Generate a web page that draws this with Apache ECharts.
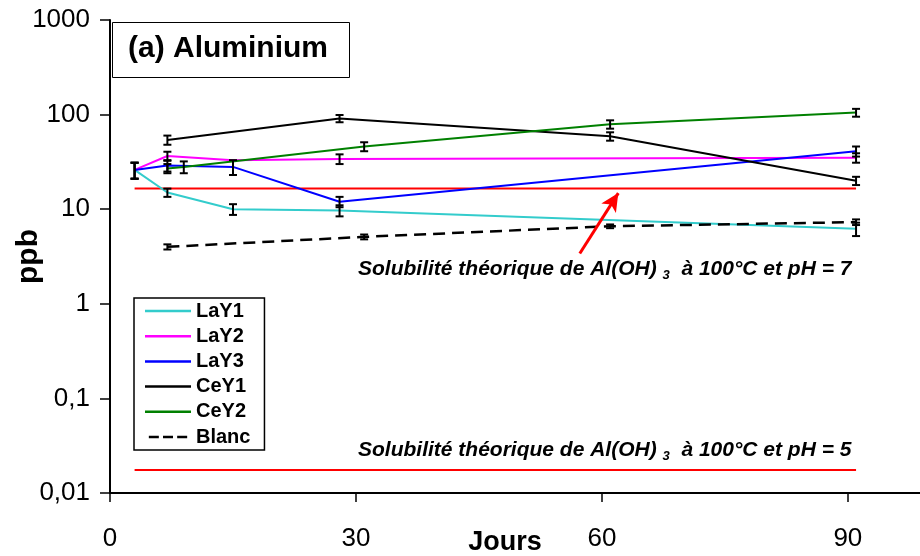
<!DOCTYPE html>
<html><head><meta charset="utf-8">
<script src="https://cdn.jsdelivr.net/npm/echarts@6/dist/echarts.min.js"></script>
<style>html,body{margin:0;padding:0;background:#fff}#c{width:920px;height:556px}</style>
</head><body><div id="c"></div>
<script>
// ---- data (days, ppb) ----
const LaY1_days = [3, 7, 15, 28, 91];
const LaY1_vals = [26, 15, 10, 9.7, 6.2];
const LaY1_err  = [5, 1.5, 1.3, 1.3, 1.0];

const LaY2_days = [3, 7, 15, 28, 91];
const LaY2_vals = [26, 36.5, 33, 34, 35];
const LaY2_err  = [5, 4, 0, 4, 4];

const LaY3_days = [3, 7, 15, 28, 91];
const LaY3_vals = [26, 29, 28, 12, 41];
const LaY3_err  = [5, 4, 5, 1.5, 5];

const CeY1_days = [7, 28, 61, 91];
const CeY1_vals = [54, 91, 59, 20];
const CeY1_err  = [6, 8, 6, 2];

const CeY2_days = [7, 9, 31, 61, 91];
const CeY2_vals = [27, 28, 46, 79, 105];
const CeY2_err  = [3, 4, 5, 8, 10];

const Blanc_days = [7, 31, 61, 91];
const Blanc_vals = [4.0, 5.1, 6.6, 7.3];
const Blanc_err  = [0.25, 0.3, 0.3, 0.5];

const solubility_days = [3, 91];
const solubility_pH7 = 16.6;
const solubility_pH5 = 0.0175;

const arrowFrom = [57.3, 3.4];
const arrowTo = [62, 14.8];

const xTicks = [0, 30, 60, 90];
const yTicks = [0.01, 0.1, 1, 10, 100, 1000];
const yTickLabels = ['0,01', '0,1', '1', '10', '100', '1000'];

const seriesDefs = [
  {name: 'LaY1', days: LaY1_days, vals: LaY1_vals, err: LaY1_err, color: '#33CCCC', type: 'solid'},
  {name: 'LaY2', days: LaY2_days, vals: LaY2_vals, err: LaY2_err, color: '#FF00FF', type: 'solid'},
  {name: 'LaY3', days: LaY3_days, vals: LaY3_vals, err: LaY3_err, color: '#0000FF', type: 'solid'},
  {name: 'CeY1', days: CeY1_days, vals: CeY1_vals, err: CeY1_err, color: '#000000', type: 'solid'},
  {name: 'CeY2', days: CeY2_days, vals: CeY2_vals, err: CeY2_err, color: '#008000', type: 'solid'},
  {name: 'Blanc', days: Blanc_days, vals: Blanc_vals, err: Blanc_err, color: '#000000', type: [12, 7]}
];

const chart = echarts.init(document.getElementById('c'), null, {renderer: 'canvas'});
const FONT = 'Liberation Sans, Arial, sans-serif';

const series = seriesDefs.map(d => ({
  name: d.name,
  type: 'line',
  symbol: 'none',
  data: d.days.map((x, i) => [x, d.vals[i]]),
  lineStyle: {color: d.color, width: d.name === 'Blanc' ? 2.5 : 2, type: d.type},
  itemStyle: {color: d.color},
  z: 3,
  animation: false
}));

// error bars
const errData = [];
seriesDefs.forEach(d => d.days.forEach((x, i) => {
  if (d.err[i] > 0) errData.push([x, d.vals[i], d.vals[i] - d.err[i], d.vals[i] + d.err[i]]);
}));
series.push({
  type: 'custom',
  name: 'err',
  data: errData,
  z: 5,
  renderItem: function (params, api) {
    const x = api.value(0);
    const lo = api.coord([x, api.value(2)]);
    const hi = api.coord([x, api.value(3)]);
    const w = 4;
    const st = {stroke: '#000', lineWidth: 2};
    return {type: 'group', children: [
      {type: 'line', shape: {x1: lo[0], y1: lo[1], x2: hi[0], y2: hi[1]}, style: st},
      {type: 'line', shape: {x1: lo[0] - w, y1: lo[1], x2: lo[0] + w, y2: lo[1]}, style: st},
      {type: 'line', shape: {x1: hi[0] - w, y1: hi[1], x2: hi[0] + w, y2: hi[1]}, style: st}
    ]};
  },
  animation: false
});

// theoretical solubility lines
series.push({
  type: 'line', name: 'pH7', symbol: 'none', z: 2,
  data: solubility_days.map(x => [x, solubility_pH7]),
  lineStyle: {color: '#FF0000', width: 2},
  markLine: {
    silent: true, symbol: ['none', 'arrow'], symbolSize: [13, 18],
    lineStyle: {color: '#FF0000', width: 3, type: 'solid'},
    label: {show: false},
    data: [[{coord: arrowFrom}, {coord: arrowTo}]]
  },
  animation: false
});
series.push({
  type: 'line', name: 'pH5', symbol: 'none', z: 2,
  data: solubility_days.map(x => [x, solubility_pH5]),
  lineStyle: {color: '#FF0000', width: 2},
  animation: false
});

function annot(top, ph) {
  return {
    type: 'text', left: 358, top: top, z: 10,
    style: {
      text: '{b|Solubilité théorique de Al(OH) }{s|3}{b|  à 100°C et pH = ' + ph + '}',
      rich: {
        b: {fontFamily: FONT, fontWeight: 'bold', fontStyle: 'italic', fontSize: 21, fill: '#000', verticalAlign: 'bottom'},
        s: {fontFamily: FONT, fontWeight: 'bold', fontStyle: 'italic', fontSize: 13, fill: '#000', verticalAlign: 'bottom', padding: [0, 0, -2, 0]}
      }
    }
  };
}

const legendIconSolid = 'rect';
const legendIconDash = 'path://M0,0h12v3h-12z M17,0h12v3h-12z M34,0h12v3h-12z';

chart.setOption({
  animation: false,
  backgroundColor: '#fff',
  grid: {left: 110, right: 0, top: 20, bottom: 63, containLabel: false, outerBoundsMode: 'none'},
  legend: {
    data: seriesDefs.map(d => ({name: d.name, icon: d.name === 'Blanc' ? legendIconDash : legendIconSolid})),
    orient: 'vertical', left: 134, top: 298,
    itemWidth: 46, itemHeight: 2.5, itemGap: 5.2,
    padding: [3, 14, 3, 11],
    borderColor: '#000', borderWidth: 1.5,
    backgroundColor: '#fff',
    textStyle: {fontFamily: FONT, fontWeight: 'bold', fontSize: 20, color: '#000'},
    selectedMode: false
  },
  xAxis: {
    type: 'value', min: 0, max: 98.8, interval: 30,
    name: 'Jours', nameLocation: 'middle', nameGap: 36, nameMoveOverlap: false,
    nameTextStyle: {fontFamily: FONT, fontWeight: 'bold', fontSize: 27, color: '#000', padding: [0, 20, 0, 0]},
    axisLine: {lineStyle: {color: '#000', width: 2}},
    axisTick: {show: true, length: 9, inside: false, lineStyle: {color: '#000', width: 1.5},
      customValues: xTicks},
    axisLabel: {customValues: xTicks, fontFamily: FONT, fontSize: 26, color: '#000', margin: 33,
      formatter: v => xTicks.includes(v) ? String(v) : ''},
    splitLine: {show: false}
  },
  yAxis: {
    type: 'log', logBase: 10, min: 0.01, max: 1000,
    name: 'ppb', nameLocation: 'middle', nameGap: 66, nameRotate: 90, nameMoveOverlap: false,
    nameTextStyle: {fontFamily: FONT, fontWeight: 'bold', fontSize: 30, color: '#000'},
    axisLine: {show: true, lineStyle: {color: '#000', width: 2}},
    axisTick: {show: true, length: 10, lineStyle: {color: '#000', width: 1.5}},
    axisLabel: {fontFamily: FONT, fontSize: 26, color: '#000', margin: 20,
      formatter: v => {
        const e = Math.round(Math.log10(v));
        const idx = yTicks.findIndex(t => Math.round(Math.log10(t)) === e);
        return idx >= 0 ? yTickLabels[idx] : '';
      }},
    splitLine: {show: false}
  },
  graphic: [
    {type: 'rect', left: 110, top: 20, z: 0, shape: {width: 237, height: 55}, style: {fill: 'none', stroke: '#000', lineWidth: 1}},
    {type: 'text', left: 128, top: 34, z: 10,
      style: {text: '(a) Aluminium', fontFamily: FONT, fontWeight: 'bold', fontSize: 30, fill: '#000'}},
    annot(259, '7'),
    annot(440, '5')
  ],
  series: series
});
</script></body></html>
